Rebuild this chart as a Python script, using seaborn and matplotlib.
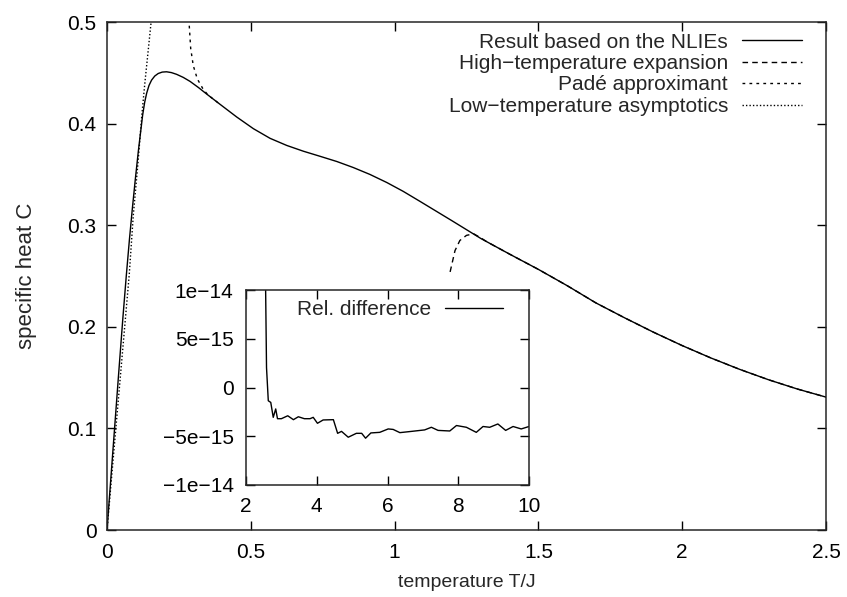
import numpy as np
import pandas as pd
import matplotlib
matplotlib.use("Agg")
import matplotlib.pyplot as plt
import seaborn as sns

# --- data ---
T_nlie = [0, 0.02, 0.04, 0.055, 0.067, 0.078, 0.088, 0.098, 0.109, 0.117,
          0.124, 0.131, 0.138, 0.146, 0.155, 0.166, 0.178, 0.192, 0.207, 0.224,
          0.242, 0.265, 0.289, 0.318, 0.347, 0.370, 0.393, 0.451, 0.509, 0.567,
          0.625, 0.683, 0.741, 0.799, 0.856, 0.914, 0.973, 1.030, 1.088, 1.2,
          1.3, 1.4, 1.5, 1.6, 1.7, 1.8, 1.9, 2.0, 2.1, 2.2, 2.3, 2.4, 2.5]
C_nlie = [0, 0.076, 0.152, 0.208, 0.250, 0.286, 0.316, 0.344, 0.373, 0.392,
          0.4085, 0.421, 0.430, 0.4375, 0.4428, 0.4468, 0.4493, 0.4507, 0.451, 0.4502,
          0.4485, 0.4455, 0.4415, 0.4355, 0.4290, 0.424, 0.419, 0.4065, 0.395, 0.3855,
          0.3785, 0.3728, 0.3678, 0.3627, 0.3568, 0.3500, 0.3420, 0.3333, 0.3235, 0.3043,
          0.2869, 0.2715, 0.2565, 0.2405, 0.2235, 0.2088, 0.1947, 0.1815, 0.1693, 0.1581,
          0.1479, 0.1388, 0.1308]

T_high = [1.193, 1.210, 1.227, 1.250, 1.275, 1.300, 1.320, 1.4, 1.5, 1.6, 1.7,
          1.8, 1.9, 2.0, 2.1, 2.2, 2.3, 2.4, 2.5]
C_high = [0.254, 0.275, 0.285, 0.290, 0.2915, 0.2875, 0.2838, 0.2715, 0.2565, 0.2405,
          0.2235, 0.2088, 0.1947, 0.1815, 0.1693, 0.1581, 0.1479, 0.1388, 0.1308]

T_pade = [0.283, 0.291, 0.300, 0.314, 0.335, 0.352, 0.370, 0.393]
C_pade = [0.510, 0.474, 0.457, 0.444, 0.4335, 0.428, 0.424, 0.419]

T_low = [0, 0.040, 0.0775, 0.0915, 0.107, 0.121, 0.132, 0.144, 0.153, 0.156]
C_low = [0, 0.130, 0.252, 0.310, 0.359, 0.408, 0.441, 0.474, 0.499, 0.510]

T_rel = [2.54, 2.555, 2.58, 2.63, 2.70, 2.77, 2.84, 2.89, 3.00, 3.18, 3.34, 3.48,
         3.65, 3.81, 3.90, 4.02, 4.18, 4.47, 4.59, 4.70, 4.89, 5.12, 5.27, 5.38,
         5.53, 5.78, 6.02, 6.16, 6.35, 6.68, 7.05, 7.24, 7.43, 7.76, 7.95, 8.23,
         8.51, 8.70, 8.89, 9.12, 9.34, 9.55, 9.78, 10.0]
rel_diff = [2.0e-14, 1.0e-14, 2.04e-15, -1.36e-15, -1.53e-15, -3.06e-15, -2.2e-15,
            -3.2e-15, -3.2e-15, -2.9e-15, -3.3e-15, -3.0e-15, -3.2e-15, -3.2e-15,
            -3.06e-15, -3.67e-15, -3.33e-15, -3.3e-15, -4.7e-15, -4.5e-15, -5.1e-15,
            -4.7e-15, -4.7e-15, -5.2e-15, -4.66e-15, -4.6e-15, -4.25e-15, -4.3e-15,
            -4.63e-15, -4.5e-15, -4.35e-15, -4.08e-15, -4.4e-15, -4.46e-15, -3.9e-15,
            -4.08e-15, -4.6e-15, -4.0e-15, -4.08e-15, -3.74e-15, -4.4e-15, -4.0e-15,
            -4.25e-15, -4.0e-15]

main_xticks = [0, 0.5, 1, 1.5, 2, 2.5]
main_xlabels = ['0', '0.5', '1', '1.5', '2', '2.5']
main_yticks = [0, 0.1, 0.2, 0.3, 0.4, 0.5]
main_ylabels = ['0', '0.1', '0.2', '0.3', '0.4', '0.5']
ins_xticks = [2, 4, 6, 8, 10]
ins_xlabels = ['2', '4', '6', '8', '10']
ins_yticks = [-1e-14, -5e-15, 0, 5e-15, 1e-14]
ins_ylabels = ['\u22121e\u221214', '\u22125e\u221215', '0', '5e\u221215', '1e\u221214']

# --- style ---
sns.set_style("ticks")
plt.rcParams['font.family'] = ['Liberation Sans', 'DejaVu Sans']
plt.rcParams['font.size'] = 15

fig = plt.figure(figsize=(8.47, 5.97), dpi=100)
ax = fig.add_axes([107/847, 1-530/597, 719/847, 508/597])

lw = 1.0
sns.lineplot(x=T_nlie, y=C_nlie, sort=False, estimator=None, color='black',
             lw=lw, ax=ax, label='Result based on the NLIEs')
sns.lineplot(x=T_high, y=C_high, sort=False, estimator=None, color='black',
             lw=lw, ls=(0, (4, 3)), ax=ax, label='High\u2212temperature expansion')
sns.lineplot(x=T_pade, y=C_pade, sort=False, estimator=None, color='black',
             lw=lw, ls=(0, (2, 3)), ax=ax, label='Padé approximant')
sns.lineplot(x=T_low, y=C_low, sort=False, estimator=None, color='black',
             lw=lw, ls=(0, (1, 1.5)), ax=ax, label='Low\u2212temperature asymptotics')

ax.set_xlim(0, 2.5)
ax.set_ylim(0, 0.5)
ax.set_xticks(main_xticks, main_xlabels)
ax.set_yticks(main_yticks, main_ylabels)
ax.tick_params(direction='in', top=True, right=True, length=6.5, width=1,
               labelsize=15, colors='black')
ax.tick_params(axis='x', pad=9)
ax.tick_params(axis='y', pad=7.5)
for s in ax.spines.values():
    s.set_linewidth(1.1)
    s.set_visible(True)
ax.set_xlabel('temperature T/J', fontsize=14, labelpad=9)
ax.set_ylabel('specific heat C', fontsize=16, labelpad=22)

leg = ax.legend(loc='upper right', bbox_to_anchor=(802/847, 1-32.5/597),
                bbox_transform=fig.transFigure, frameon=False, markerfirst=False,
                borderpad=0, borderaxespad=0, handlelength=2.9, handletextpad=0.65,
                labelspacing=0.12, fontsize=15)
for col in leg._legend_handle_box.get_children():
    col.align = 'right'

# --- inset ---
ins = fig.add_axes([246/847, 1-485/597, 283/847, 195/597])
sns.lineplot(x=T_rel, y=rel_diff, sort=False, estimator=None, color='black',
             lw=lw, ax=ins, label='Rel. difference')
ins.set_xlim(2, 10)
ins.set_ylim(-1e-14, 1e-14)
ins.set_xticks(ins_xticks, ins_xlabels)
ins.set_yticks(ins_yticks, ins_ylabels)
ins.tick_params(direction='in', top=True, right=True, length=6.5, width=1,
                labelsize=15, pad=9, colors='black')
for s in ins.spines.values():
    s.set_linewidth(1.1)
    s.set_visible(True)
ins.set_xlabel('')
ins.set_ylabel('')
ileg = ins.legend(loc='upper right', bbox_to_anchor=(503/847, 1-300/597),
                  bbox_transform=fig.transFigure, frameon=False, markerfirst=False,
                  borderpad=0, borderaxespad=0, handlelength=2.8, handletextpad=0.65,
                  fontsize=15)

fig.savefig('out.png', dpi=100)
